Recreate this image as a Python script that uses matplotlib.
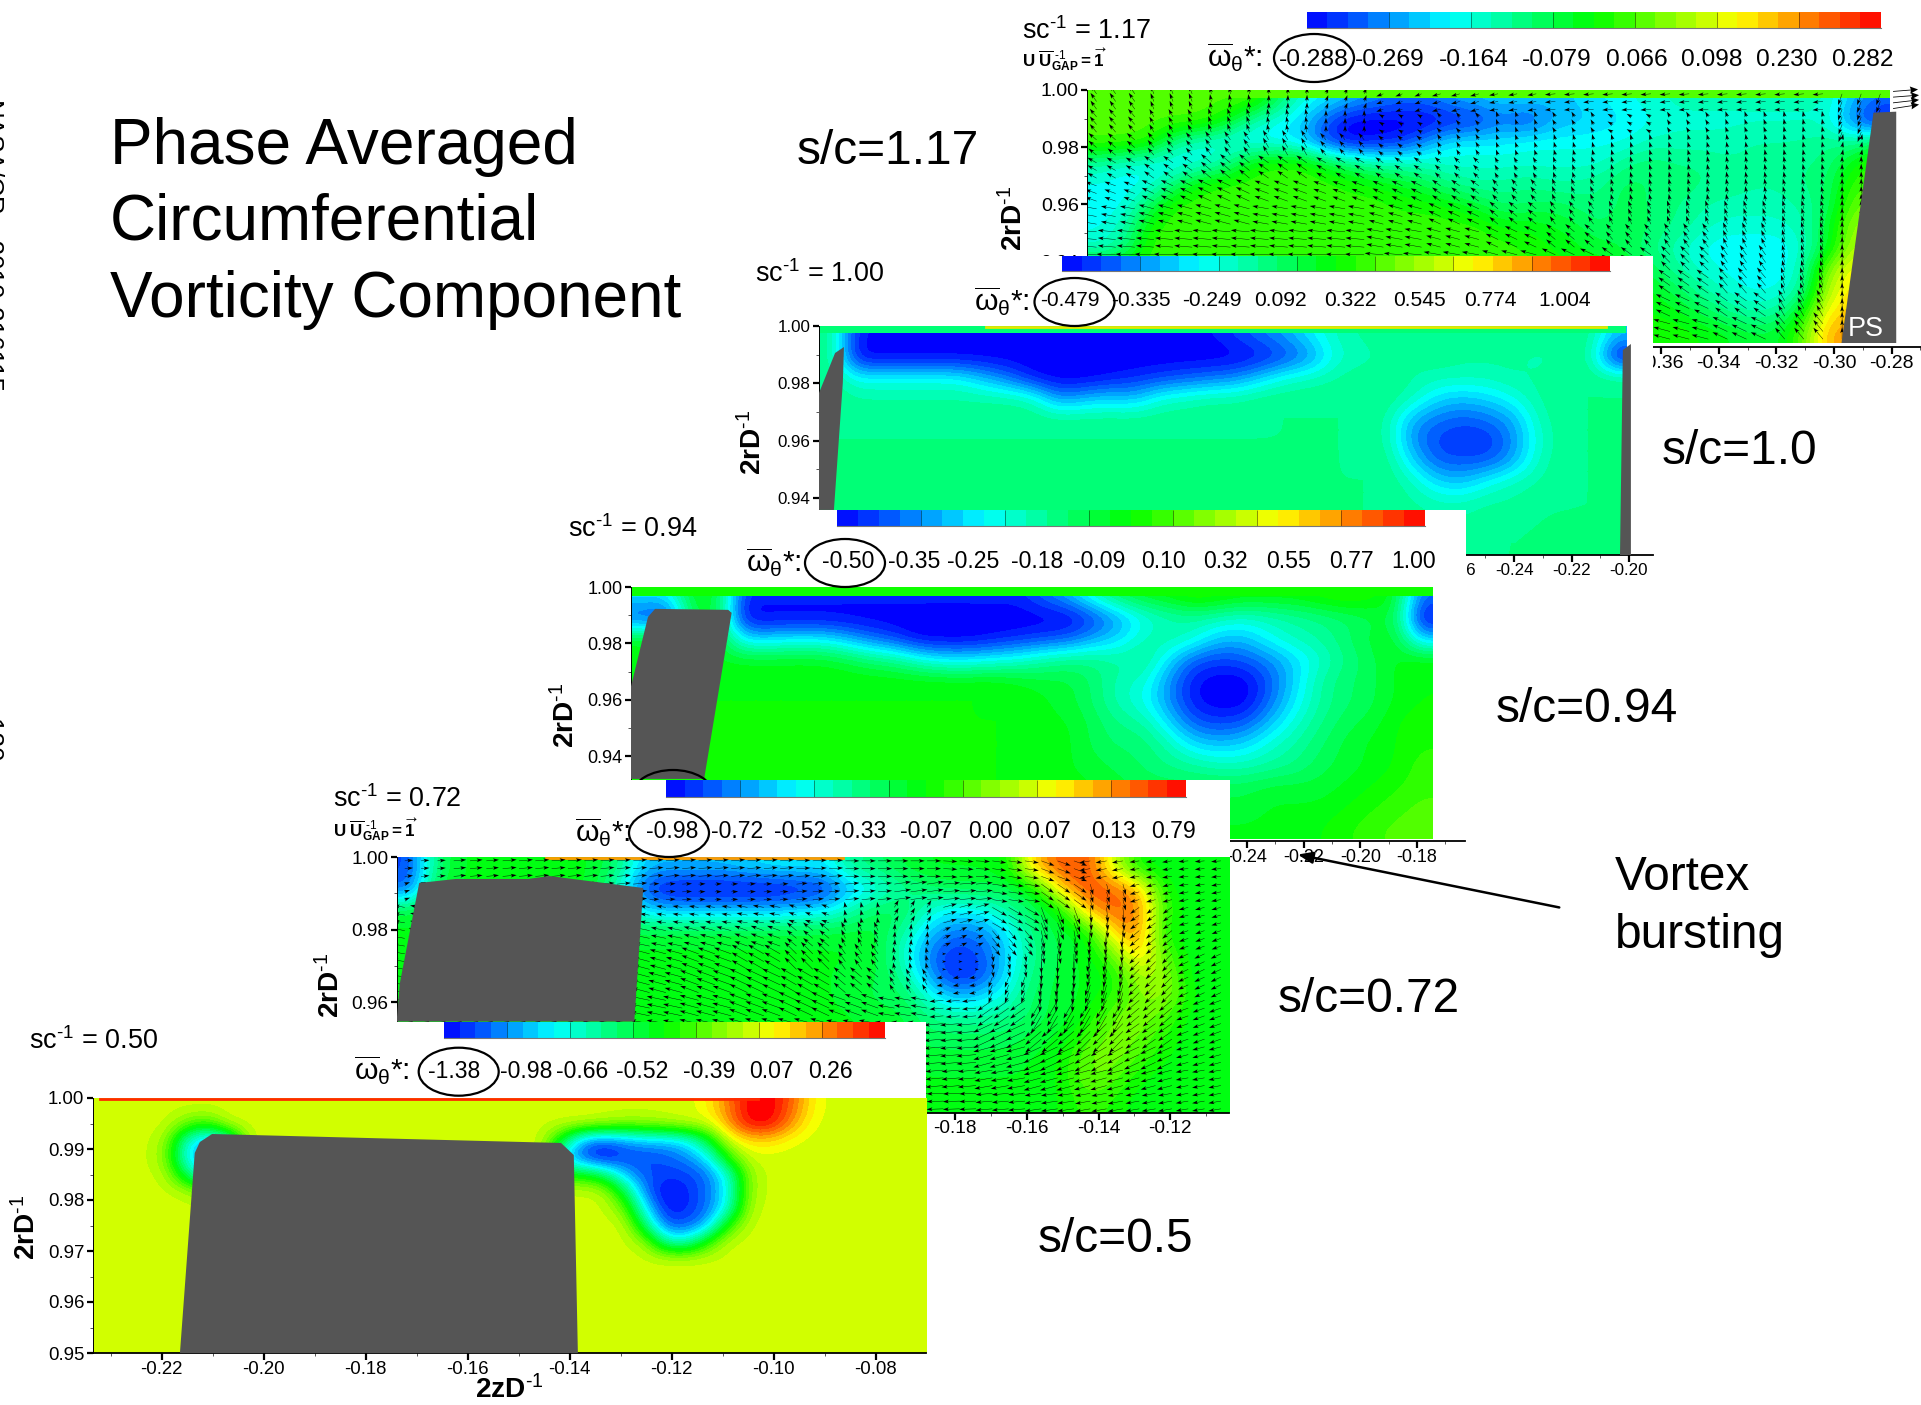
import numpy as np
import matplotlib
matplotlib.use('Agg')
import matplotlib.pyplot as plt
from matplotlib.colors import LinearSegmentedColormap, BoundaryNorm, Normalize
from matplotlib.patches import Ellipse, Rectangle, Polygon

plt.rcParams['font.family'] = ['Liberation Sans', 'DejaVu Sans']
plt.rcParams['mathtext.fontset'] = 'custom'
plt.rcParams['mathtext.rm'] = 'Liberation Sans'
plt.rcParams['mathtext.it'] = 'Liberation Sans:italic'
plt.rcParams['mathtext.bf'] = 'Liberation Sans:bold'
plt.rcParams['mathtext.default'] = 'regular'
plt.rcParams['axes.unicode_minus'] = False

# legend labels of each station
labels_117 = ['-0.288', '-0.269', '-0.164', '-0.079', '0.066', '0.098', '0.230', '0.282']
labels_100 = ['-0.479', '-0.335', '-0.249', '0.092', '0.322', '0.545', '0.774', '1.004']
labels_094 = ['-0.50', '-0.35', '-0.25', '-0.18', '-0.09', '0.10', '0.32', '0.55', '0.77', '1.00']
labels_072 = ['-0.98', '-0.72', '-0.52', '-0.33', '-0.07', '0.00', '0.07', '0.13', '0.79']
labels_050 = ['-1.38', '-0.98', '-0.66', '-0.52', '-0.39', '0.07', '0.26']

# contour level: 0 blue, 10 cyan, 20 green, 30 yellow, 40 red
field_117 = np.array([
    [23,23,23,23,23,23,23,18,12,10, 8, 6, 5, 5, 7, 8, 9, 9, 8, 9,10,11,12,13,13,13,13,13,13,13, 8, 5],
    [23,23,23,23,23,20,14,11, 9, 4, 0, 0, 0, 0, 1, 2, 5, 3, 7, 8, 9,10,11,12,12,12,12,12,12,12, 5, 0],
    [23,23,22,15,12,11,10,10, 9, 3, 0, 1, 2, 6,10,10,10,11,11,11,11,11,13,13,13,13,14,14,14,15,14,18],
    [14,12,11,10,11,14,20,22,22,19,16,14,13,13,12,12,12,12,12,12,12,15,16,15,15,14,14,14,15,15,20,22],
    [11,10,11,16,21,22,22,22,22,22,21,20,19,17,15,14,14,15,14,14,15,17,16,16,15,15,14,14,15,16,22,23],
    [10,11,17,22,22,22,22,22,22,22,22,22,21,21,20,18,16,16,17,16,15,17,16,15,14,13,13,13,14,16,24,24],
    [11,13,21,22,22,22,22,22,22,22,22,22,22,22,22,22,20,20,19,18,16,18,16,15,13,12,12,12,13,18,26,26],
    [12,15,22,22,22,22,22,22,22,22,22,22,22,22,22,22,22,21,20,19,18,17,15,13,11,10,10,10,12,18,27,27],
    [22,22,22,22,22,22,22,22,22,22,22,22,22,22,22,22,22,22,21,20,20,19,17,14,12,11,10,10,13,25,30,30],
    [22,22,22,22,22,22,22,22,22,22,22,22,22,22,22,22,22,22,22,21,20,20,19,17,14,12,11,11,14,27,31,31],
    [22,22,22,22,22,22,22,22,22,22,22,22,22,22,22,22,22,22,22,22,21,20,20,19,17,15,13,14,19,30,32,32],
    [22,22,22,22,22,22,22,22,22,22,22,22,22,22,22,22,22,22,22,22,22,21,21,21,20,19,18,18,23,33,34,34],
])
field_100 = np.array([
    [15, 1, 1, 1, 1, 1, 1, 1, 1, 1, 1, 1, 1, 1, 1, 1, 3, 5, 7,10,13,14,15,15,15,15,15,15,15,15,15, 8],
    [15, 0, 0, 0, 0, 0, 0, 0, 0, 0, 0, 0, 0, 0, 0, 0, 0, 1, 3, 6,12,13,14,14,15,14,14,14,13,14,15, 0],
    [15,11,11,11,11,11, 8, 5, 1, 0, 0, 1, 2, 3, 4, 5, 6, 9,12,13,14,15,15,14,13,13,13,14,14,15,15,15],
    [15,14,14,14,14,14,14,14,13, 6, 8, 9, 8,12,13,14,14,15,15,15,15,15,15,13, 9, 8, 9,11,14,15,15,15],
    [15,15,15,15,15,15,15,15,15,15,15,15,15,15,15,15,15,15,15,15,15,15,14, 7, 5, 4, 5, 7,13,15,15,15],
    [15,15,15,15,15,15,15,15,15,15,15,15,15,15,15,15,15,15,15,15,15,15,14, 6, 3, 2, 2, 6,12,15,15,15],
    [15,15,15,15,15,15,15,15,15,15,15,15,15,15,15,15,15,15,15,15,15,15,15, 9, 4, 4, 4, 7,13,15,15,15],
    [15,15,15,15,15,15,15,15,15,15,15,15,15,15,15,15,15,15,15,15,15,15,15,13, 9, 8,11,13,14,15,15,15],
    [15,15,15,15,15,15,15,15,15,15,15,15,15,15,15,15,15,15,15,15,15,15,15,14,13,13,14,14,15,15,15,15],
    [15,15,15,15,15,15,15,15,15,15,15,15,15,15,15,15,15,15,15,15,15,15,15,15,14,14,15,15,15,15,15,15],
    [15,15,15,15,15,15,15,15,15,15,15,15,15,15,15,15,15,15,15,15,15,15,15,15,15,15,15,15,15,16,16,15],
])
field_094 = np.array([
    [10,10,20,18, 2, 2, 2, 2, 2, 2, 2, 2, 2, 2, 2, 2, 5, 8,13,17,19,20,22,21,20,20,20,21,22,21,19, 5],
    [ 3, 1,18,18, 0, 0, 0, 0, 0, 0, 0, 0, 0, 0, 0, 0, 0, 0, 3, 7,11,13,14,13,12,13,14,15,16,17,18, 0],
    [19,19,19,19, 9, 9,10,10, 8, 5, 3, 0, 0, 0, 1, 2, 3, 4, 7, 9,13,14,12, 8, 8,11,13,14,16,18,19, 8],
    [20,20,20,19,19,19,19,19,18,16,15,12,10,10,11,12,14,15,15,14,15, 9, 4, 3, 4, 6, 9,12,15,17,19,20],
    [20,20,20,20,20,20,20,20,20,20,20,20,20,20,20,19,18,18,16,13,12, 6, 1, 0, 0, 4, 9,14,16,17,19,20],
    [20,20,20,20,20,20,20,20,20,20,20,20,20,20,20,20,19,18,16,13,11, 6, 1, 0, 0, 5,10,14,16,17,19,20],
    [20,20,20,20,20,20,20,20,20,20,20,20,20,20,20,20,19,19,17,15,14, 9, 4, 3, 4, 8,12,15,17,18,20,21],
    [20,20,20,20,20,20,20,20,20,20,20,20,20,20,20,20,20,19,17,16,16,13, 9, 8, 9,12,14,16,18,19,20,21],
    [20,20,20,20,20,20,20,20,20,20,20,20,20,20,20,20,19,19,18,17,16,15,14,13,13,14,15,17,18,19,20,22],
    [20,20,20,20,20,20,20,20,20,20,20,20,20,20,20,20,20,19,19,18,17,17,17,17,17,18,18,18,19,20,21,22],
    [20,20,20,20,20,20,20,20,20,20,20,20,20,20,20,20,20,20,19,19,18,18,18,18,18,19,19,19,20,21,22,23],
    [20,20,20,20,20,20,20,20,20,20,20,20,20,20,20,20,20,20,19,19,19,19,19,19,19,19,19,20,21,22,23,23],
])
field_072 = np.array([
    [ 3,16,19,19,19,19,19,19,16, 8, 8, 8, 8, 9,10,10,10,15,16,18,19,19,19,20,33,36,37,28,20,19,19,19],
    [ 4,18,19,19,19,19,19,19,12, 3, 0, 0, 0, 0, 0, 1, 2, 8,11,14,16,17,17,17,19,32,37,36,33,20,19,19],
    [18,19,19,19,19,19,19,19,15, 9, 8, 8, 8, 8, 8, 9,10,14,17,17,12,10,11,14,17,19,33,36,35,22,19,19],
    [19,19,19,19,19,19,19,19,18,18,18,18,18,18,18,18,18,18,18,14, 8, 5, 6,10,16,18,19,32,35,20,19,19],
    [19,19,19,19,19,19,19,19,19,19,19,19,19,19,19,19,19,19,18,12, 5, 2, 4, 9,15,18,19,24,33,23,19,19],
    [19,19,19,19,19,19,19,19,19,19,19,19,19,19,19,19,19,18,18,14, 6, 1, 3,10,16,18,19,20,27,26,19,19],
    [19,19,19,19,19,19,19,19,19,19,19,19,19,19,19,19,19,18,17,17,11, 7, 9,12,17,18,19,21,25,26,20,19],
    [19,19,19,19,19,19,19,19,19,19,19,19,19,19,19,19,19,19,18,18,15,14,14,15,17,18,20,24,25,23,19,19],
    [19,19,19,19,19,19,19,19,19,19,19,19,19,19,19,19,19,19,18,18,17,17,17,17,18,19,22,25,24,21,19,19],
    [19,19,19,19,19,19,19,19,19,19,19,19,19,19,19,19,19,19,19,19,18,18,18,18,19,20,24,25,22,20,19,19],
    [19,19,19,19,19,19,19,19,19,19,19,19,19,19,19,19,19,19,19,19,19,19,19,19,19,20,24,23,20,19,19,19],
    [19,19,19,19,19,19,19,19,19,19,19,19,19,19,19,19,19,19,19,19,19,19,19,19,19,20,22,21,19,19,19,19],
])
# station 0.50 is flat except for the two patches below
background_050 = 28
crescent_050 = np.array([
    [28,28,24,22,28],
    [28,26,12,6,10],
    [28,25,10,5,5],
    [28,27,16,8,8],
    [28,28,27,24,20],
])
blob_050 = np.array([
    [28,28,28,28,28,28,28,30,35,40,40,36,30],
    [28,28,27,26,26,27,28,28,34,40,40,34,29],
    [18,6,4,6,8,8,10,18,28,31,31,29,28],
    [10,3,0,3,3,4,6,10,22,28,28,28,28],
    [20,20,17,8,4,3,3,5,12,26,28,28,28],
    [28,28,27,18,5,0,2,5,11,26,28,28,28],
    [28,28,28,24,10,1,2,5,12,27,28,28,28],
    [28,28,28,28,16,4,4,8,22,28,28,28,28],
    [28,28,28,28,26,14,13,22,28,28,28,28,28],
    [28,28,28,28,28,28,28,28,28,28,28,28,28],
])

# vector direction (deg) and length (px) read per block of arrows
angle_117 = np.array([
    [125,112,100, 88, 70,200,195,190,185,185,185,185,185,250],
    [130,120,110,100, 90,150,130,110,120,150,120,110,100,250],
    [140,130,125,120,130,140,120,110,105,105,105,100,100, 80],
    [150,145,140,145,150,145,135,120,110,105,100,100,100, 90],
    [160,155,155,160,160,155,145,130,115,105,100,100,105, 90],
    [170,165,165,170,170,165,155,140,125,115,110,110,105, 90],
    [175,175,175,175,175,170,165,155,140,130,125,115,105, 90],
    [178,178,178,178,178,175,170,165,155,145,135,125,105, 90],
    [178,178,178,178,178,178,175,170,165,155,145,130,110, 90],
    [178,178,178,178,178,178,178,175,172,165,155,145,120, 90],
    [178,178,178,178,178,178,178,178,175,172,165,155,130, 90],
])
speed_117 = np.array([
    [14,12,10, 9, 9,10,12,12,14,14,14,14,14,16],
    [14,12,12,11, 9, 7, 8, 8, 8, 8, 8, 8, 8,14],
    [14,13,14,15,12, 9, 9, 8, 8, 8, 8, 8, 8, 8],
    [14,16,18,17,15,13,11, 9, 9, 9, 9, 9, 9, 9],
    [16,18,20,20,18,16,14,12,11,10,10,10,10,10],
    [20,21,22,22,22,20,18,15,13,12,12,12,12,12],
    [24,24,25,25,25,23,20,18,16,14,14,14,14,14],
    [26,26,26,26,26,25,23,22,20,18,17,16,14,14],
    [26,26,26,26,26,26,25,24,22,20,19,18,15,14],
    [26,26,26,26,26,26,26,25,24,22,21,20,17,14],
    [26,26,26,26,26,26,26,26,25,24,23,22,20,16],
])
angle_072 = np.array([
    [  5,  5,  5,  5,  5,  5,  5,  5,  3,  0,  0, -3, -8,-20,190,188,185],
    [ 20, 10,  5,  5,  5,  3,  3,  3,  5,  5,  8,  5, -8,-35,-75,195,190],
    [170,170,170,170,170,172,172,170,160,100, 60, 15,-30,-70,-85,215,195],
    [170,170,170,170,170,168,165,160,140,115, 85, 25,-50,-80,-95,220,200],
    [170,170,170,170,168,165,160,150,135,125,100,  0,-80,-90,-100,225,205],
    [170,170,170,170,168,165,160,155,150,140,120,190,250,265,255,225,205],
    [172,172,172,172,170,168,165,160,155,160,170,185,215,240,240,220,200],
    [174,174,174,174,172,170,168,165,165,170,175,185,205,220,225,215,200],
    [176,176,176,176,175,174,172,170,170,175,178,185,195,205,210,205,195],
    [178,178,178,178,177,176,175,175,175,178,180,185,190,195,195,195,190],
    [180,180,180,180,180,178,178,178,178,180,180,182,185,188,190,190,190],
])
speed_072 = np.array([
    [12,18,20,20,20,20,20,20,20,20,20,20,20,20,16,14,14],
    [ 8,20,20,20,20,14,10,12,16,20,24,24,22,22,16,14,14],
    [16,18,20,20,18,14,14,16,12, 8,12,20,24,26,22,16,14],
    [18,18,20,20,20,22,22,20,18,14,10,12,18,26,24,18,14],
    [18,20,20,20,22,24,26,26,24,18,10, 4,12,28,26,20,16],
    [20,20,20,22,24,26,28,28,26,22,14,10,16,28,28,22,16],
    [20,20,22,24,26,28,28,28,28,26,24,20,26,30,30,24,18],
    [20,20,22,24,26,28,28,28,28,28,28,28,30,30,28,24,18],
    [20,20,22,24,26,26,28,28,28,28,28,28,28,28,26,24,18],
    [20,20,22,22,24,24,26,26,26,26,26,26,26,26,24,22,18],
    [20,20,20,22,22,24,24,24,24,24,24,24,24,24,22,20,18],
])

# grey blade cross sections, in axis units
blade_117_x = [-0.2974, -0.2863, -0.2784, -0.2784]
blade_117_y = [0.9114, 0.99207, 0.99241, 0.9114]
blade_100_x = [-0.4823, -0.4823, -0.4767, -0.4736, -0.4740, -0.4771]
blade_100_y = [0.9359, 0.97666, 0.99059, 0.99268, 0.98014, 0.9359]
blade_100b_x = [-0.2031, -0.2021, -0.1993, -0.1993]
blade_100b_y = [0.9202, 0.99164, 0.99373, 0.9202]
blade_094_x = [-0.4573, -0.4573, -0.4513, -0.4488, -0.4230, -0.4218, -0.4315]
blade_094_y = [0.9320, 0.9648, 0.9894, 0.99225, 0.9919, 0.99085, 0.9320]
blade_072_x = [-0.3358, -0.3349, -0.3295, -0.3193, -0.2991, -0.2932, -0.2670, -0.2695]
blade_072_y = [0.9547, 0.9652, 0.99285, 0.99395, 0.99395, 0.99477, 0.99147, 0.9547]
blade_050_x = [-0.2164, -0.2135, -0.2125, -0.2101, -0.1417, -0.1392, -0.1384]
blade_050_y = [0.95, 0.98922, 0.99137, 0.99294, 0.99118, 0.98882, 0.95]

W, H = 1921, 1405
fig = plt.figure(figsize=(W / 100, H / 100), dpi=100, facecolor='white')

cmap = LinearSegmentedColormap.from_list('small_rainbow', ['#0000ff', '#00ffff', '#00ff00', '#ffff00', '#ff0000'], 256)
levels = np.linspace(0, 40, 33)
norm = BoundaryNorm(levels, cmap.N)
bar_levels = np.linspace(0, 40, 29)
BLADE = '#555555'


def px(size):
    return size * 0.72


def overlay(z):
    a = fig.add_axes([0, 0, 1, 1], zorder=z)
    a.set_xlim(0, W)
    a.set_ylim(H, 0)
    a.axis('off')
    a.patch.set_alpha(0)
    return a


def plot_axes(z, box, xticks, yticks, xminor, yminor, xlim, ylim, tick_px):
    # box is left, top, right, bottom in figure pixels
    l, t, r, b = box
    a = fig.add_axes([l / W, 1 - b / H, (r - l) / W, (b - t) / H], zorder=z)
    a.patch.set_alpha(0)
    a.set_xlim(xlim)
    a.set_ylim(ylim)
    a.set_xticks(xticks)
    a.set_xticklabels(['%.2f' % v for v in xticks], fontsize=px(tick_px))
    a.set_yticks(yticks)
    a.set_yticklabels(['%.2f' % v for v in yticks], fontsize=px(tick_px))
    a.set_xticks(xminor, minor=True)
    a.set_yticks(yminor, minor=True)
    a.tick_params(axis='x', which='major', length=5, width=1.6, pad=0.5)
    a.tick_params(axis='y', which='major', length=4, width=1.6, pad=2)
    a.tick_params(which='minor', length=2.5, width=0.7, color='#555555')
    a.spines['top'].set_visible(False)
    a.spines['right'].set_visible(False)
    a.spines['left'].set_linewidth(0.7)
    a.spines['bottom'].set_linewidth(1.3)
    return a


def draw_field(a, field, xlim, ylim):
    a.imshow(field, extent=(xlim[0], xlim[1], ylim[0], ylim[1]), origin='upper', aspect='auto',
             cmap=cmap, norm=norm, interpolation='bicubic', interpolation_stage='data', zorder=1)


def top_band(a, xlim, y_low, value):
    # narrow undisturbed layer along the casing
    a.fill_between(xlim, y_low, 1.0, color=cmap(norm(value)), lw=0, zorder=1.5)


def draw_arrows(a, angle, speed, xlim, ylim, factor, rep=3):
    ang = np.repeat(np.repeat(angle, rep, axis=0), rep, axis=1)
    spd = np.repeat(np.repeat(speed, rep, axis=0), rep, axis=1) * factor
    nr, nc = ang.shape
    xs = xlim[0] + (np.arange(nc) + 0.5) * (xlim[1] - xlim[0]) / nc
    ys = ylim[1] - (np.arange(nr) + 0.5) * (ylim[1] - ylim[0]) / nr
    X, Y = np.meshgrid(xs, ys)
    U = spd * np.cos(np.radians(ang))
    V = spd * np.sin(np.radians(ang))
    a.quiver(X, Y, U, V, angles='uv', scale_units='dots', scale=1, units='dots', width=0.42,
             headwidth=9, headlength=14, headaxislength=11, minshaft=0.7, color='black', zorder=2)


def legend_row(a, bar, labels, label_x, label_y, label_px, symbol_x, circle):
    # colour bar, value labels and the hand drawn circle of one station
    x0, y0, x1, y1 = bar
    edges = np.linspace(x0, x1, len(bar_levels))
    vals = 0.5 * (bar_levels[:-1] + bar_levels[1:])
    a.pcolormesh(edges, [y0, y1], vals[None, :], cmap=cmap, norm=Normalize(0, 40))
    a.vlines(edges[4::4][:-1], y0, y1, color='black', lw=0.5, alpha=0.6)
    a.plot([x0, x1], [y1, y1], color='#777777', lw=0.8)
    a.set_xlim(0, W)
    a.set_ylim(H, 0)
    for s, x in zip(labels, label_x):
        a.text(x, label_y, s, ha='center', va='center', fontsize=px(label_px))
    a.text(symbol_x, circle[1] - 1, r'$\overline{\omega}_{\theta}$*:', ha='left', va='center', fontsize=px(30))
    a.add_patch(Ellipse((circle[0], circle[1]), 80, 48, fill=False, ec='black', lw=1.6))


def stamp(a, x, y, s, u_row=None):
    a.text(x, y, s, ha='left', va='center', fontsize=px(27))
    if u_row is not None:
        a.text(x, u_row, r'$\mathbf{U}\ \overline{\mathbf{U}}_{GAP}^{\ \text{-1}}=\overrightarrow{\mathbf{1}}$',
               ha='left', va='center', fontsize=px(17), fontweight='bold')


def ylabel(a, x, y, s=r'2rD$^{\text{-1}}$'):
    a.text(x, y, s, rotation=90, ha='center', va='center', fontsize=px(28), fontweight='bold')


# ---- s/c = 1.17 ----
lim_y = (0.9114, 1.0)
ax = plot_axes(2, (1087, 90, 1921, 347), np.arange(-0.54, -0.27, 0.02), [0.92, 0.94, 0.96, 0.98, 1.00],
               np.arange(-0.55, -0.27, 0.02), np.arange(0.91, 1.0, 0.02), (-0.5593, -0.2698), lim_y, 19.5)
draw_field(ax, field_117, (-0.5593, -0.2806), lim_y)
top_band(ax, (-0.5593, -0.2806), 0.99724, 23)
draw_arrows(ax, angle_117, speed_117, (-0.5593, -0.2806), lim_y, 0.75)
ax.add_patch(Polygon(np.column_stack([blade_117_x, blade_117_y]), fc=BLADE, ec='none', zorder=3))
edge_arrow_y = [0.9995, 0.9975, 0.9955, 0.9935]
edge_arrow_u = [25, 26, 26, 26]
edge_arrow_v = [2, 2, 3, 4]
ax.quiver([-0.2795] * 4, edge_arrow_y, edge_arrow_u, edge_arrow_v, angles='uv', scale_units='dots', scale=1,
          units='dots', width=0.8, headwidth=9, headlength=10, headaxislength=9, zorder=4, clip_on=False)
ax.text(-0.2953, 0.9162, 'PS', color='white', fontsize=px(27), ha='left', va='center', zorder=5)
ov = overlay(3)
legend_row(ov, (1306.6, 12.3, 1881, 28.3), labels_117,
           [1314, 1390, 1474, 1557, 1637, 1712, 1787, 1863], 60, 24.5, 1207, (1314, 58))
stamp(ov, 1022, 31, r'sc$^{\text{-1}}$ = 1.17', 60)
ylabel(ov, 1014, 218)

# ---- s/c = 1.00 ----
ov = overlay(4)
ov.add_patch(Rectangle((740, 256), 913, 345, fc='white', ec='none'))
lim_x = (-0.4823, -0.1916)
lim_y = (0.9202, 1.0)
ax = plot_axes(5, (819, 326, 1653, 555), np.arange(-0.46, -0.19, 0.02), [0.94, 0.96, 0.98, 1.00],
               np.arange(-0.47, -0.19, 0.02), np.arange(0.93, 1.0, 0.01)[::2], lim_x, lim_y, 17)
draw_field(ax, field_100, (-0.4823, -0.2010), lim_y)
top_band(ax, (-0.4823, -0.2010), 0.99756, 15)
ax.plot([-0.4240, -0.2080], [0.9998, 0.9998], color='#e6e600', lw=2, zorder=2)
ax.add_patch(Polygon(np.column_stack([blade_100_x, blade_100_y]), fc=BLADE, ec='none', zorder=3))
ax.add_patch(Polygon(np.column_stack([blade_100b_x, blade_100b_y]), fc=BLADE, ec='none', zorder=3))
ov = overlay(6)
legend_row(ov, (1062, 256, 1610, 271), labels_100,
           [1070, 1141, 1212, 1280, 1350, 1420, 1490, 1565], 300.5, 21, 974, (1074.5, 302))
stamp(ov, 755, 274, r'sc$^{\text{-1}}$ = 1.00')
ylabel(ov, 753, 442)

# ---- s/c = 0.94 ----
ov = overlay(7)
ov.add_patch(Rectangle((550, 510), 916, 360, fc='white', ec='none'))
lim_x = (-0.4573, -0.1631)
lim_y = (0.9106, 1.0)
ax = plot_axes(8, (631, 587, 1465, 841), np.arange(-0.44, -0.17, 0.02), [0.92, 0.94, 0.96, 0.98, 1.00],
               np.arange(-0.45, -0.16, 0.02), np.arange(0.91, 1.0, 0.02), lim_x, lim_y, 18)
draw_field(ax, field_094, (-0.4573, -0.1745), lim_y)
top_band(ax, (-0.4573, -0.1745), 0.9968, 20)
ax.add_patch(Polygon(np.column_stack([blade_094_x, blade_094_y]), fc=BLADE, ec='none', zorder=3))
ov = overlay(9)
legend_row(ov, (837, 510, 1425, 526), labels_094,
           [848, 914, 973, 1037, 1099, 1163, 1225, 1289, 1351, 1414], 561, 23, 746, (845, 563))
ov.add_patch(Ellipse((673, 794), 80, 48, fill=False, ec='black', lw=1.6))
stamp(ov, 568, 529, r'sc$^{\text{-1}}$ = 0.94')
ylabel(ov, 566, 715)

# ---- s/c = 0.72 ----
ov = overlay(10)
ov.add_patch(Rectangle((320, 780), 910, 360, fc='white', ec='none'))
lim_x = (-0.3358, -0.1036)
lim_y = (0.9296, 1.0)
ax = plot_axes(11, (396.6, 857, 1229, 1112.7), np.arange(-0.32, -0.10, 0.02), [0.94, 0.96, 0.98, 1.00],
               np.arange(-0.33, -0.10, 0.02), np.arange(0.93, 1.0, 0.01)[::2], lim_x, lim_y, 19)
draw_field(ax, field_072, lim_x, lim_y)
ax.plot([-0.2941, -0.2112], [0.9998, 0.9998], color='#ff9900', lw=2, zorder=2)
draw_arrows(ax, angle_072, speed_072, lim_x, lim_y, 0.7)
ax.add_patch(Polygon(np.column_stack([blade_072_x, blade_072_y]), fc=BLADE, ec='none', zorder=3))
ov = overlay(12)
legend_row(ov, (666, 780, 1185.5, 796.7), labels_072,
           [672, 737, 800, 860, 926, 990, 1048, 1113, 1173], 832, 23, 575, (669, 833))
stamp(ov, 333, 799, r'sc$^{\text{-1}}$ = 0.72', 830)
ylabel(ov, 331, 985)

# ---- s/c = 0.50 ----
ov = overlay(13)
ov.add_patch(Rectangle((0, 1022), 926, 383, fc='white', ec='none'))
lim_x = (-0.2335, -0.0702)
lim_y = (0.95, 1.0)
field_050 = np.full((15, 40), background_050)
field_050[1:6, 2:7] = crescent_050
field_050[0:10, 22:35] = blob_050
ax = plot_axes(14, (92.7, 1098, 925.8, 1353), np.arange(-0.22, -0.07, 0.02), np.arange(0.95, 1.001, 0.01),
               np.arange(-0.23, -0.07, 0.02), np.arange(0.955, 1.0, 0.01), lim_x, lim_y, 18.7)
draw_field(ax, field_050, lim_x, lim_y)
ax.plot([-0.2320, -0.1030], [0.9998, 0.9998], color='#ff2a00', lw=2, zorder=2)
ax.add_patch(Polygon(np.column_stack([blade_050_x, blade_050_y]), fc=BLADE, ec='none', zorder=3))
ov = overlay(15)
legend_row(ov, (444, 1022, 884.6, 1038), labels_050,
           [454.5, 526, 582, 642, 709, 771, 830], 1071, 23, 354, (458.7, 1071.7))
stamp(ov, 29, 1041, r'sc$^{\text{-1}}$ = 0.50')
ylabel(ov, 27, 1227)
ov.text(509, 1390, r'2zD$^{\text{-1}}$', ha='center', va='center', fontsize=px(28), fontweight='bold')

# ---- slide annotations ----
top = overlay(20)
title_lines = ['Phase Averaged', 'Circumferential', 'Vorticity Component']
title_y = [147, 223, 300]
for s, y in zip(title_lines, title_y):
    top.text(110, y, s, fontsize=46, ha='left', va='center')
sc_text = ['s/c=1.17', 's/c=1.0', 's/c=0.94', 's/c=0.72', 's/c=0.5']
sc_x = [797, 1662, 1496, 1278, 1038]
sc_y = [151, 451, 710, 999, 1240]
for s, x, y in zip(sc_text, sc_x, sc_y):
    top.text(x, y, s, fontsize=34.4, ha='left', va='center')
top.text(1615, 877, 'Vortex', fontsize=34.4, ha='left', va='center')
top.text(1615, 936, 'bursting', fontsize=34.4, ha='left', va='center')
top.annotate('', xy=(1295, 854), xytext=(1562, 908),
             arrowprops=dict(arrowstyle='-|>,head_length=0.9,head_width=0.35', color='black', lw=1.8))
# report number and page number cut off at the left edge of the slide
top.text(-10, 248, 'NASA/CR\u20142010-216115', rotation=270, fontsize=px(26), ha='center', va='center')
top.text(-10, 741, '130', rotation=270, fontsize=px(26), ha='center', va='center')

fig.savefig('out.png', dpi=100)
